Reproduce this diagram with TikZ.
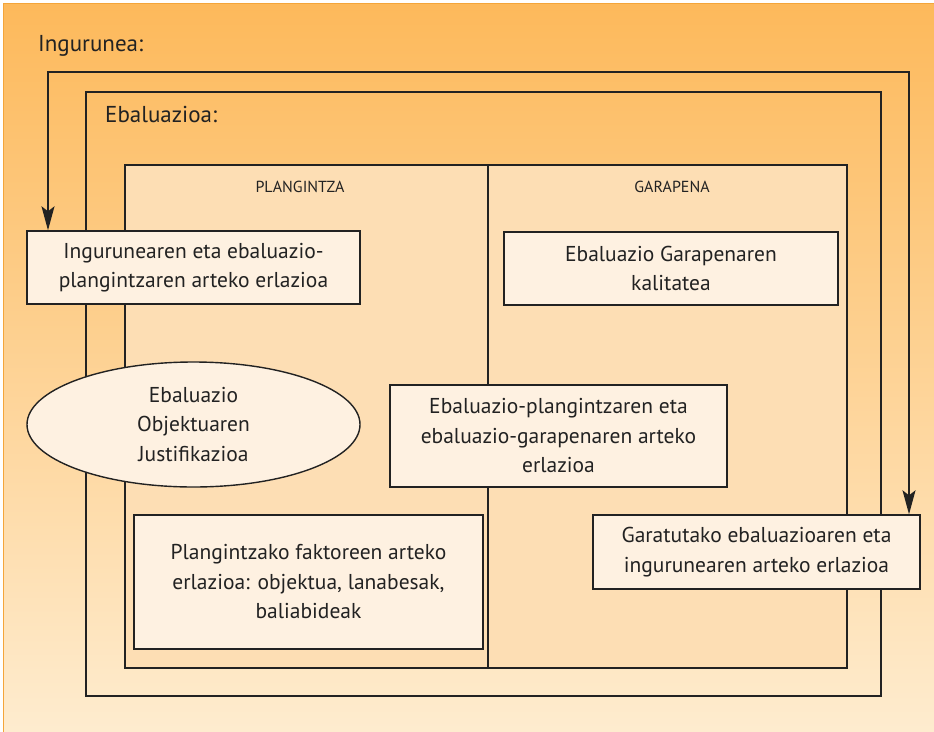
\documentclass[tikz,border=0pt]{standalone}
\usepackage{fontspec}
\setmainfont{PT Sans}
\usetikzlibrary{arrows.meta,shapes.geometric}
\definecolor{ink}{HTML}{222222}
\definecolor{boxfill}{HTML}{FEF1E1}
\definecolor{panel}{HTML}{FDDEB4}
\definecolor{bgtop}{HTML}{FDB95B}
\definecolor{bgbot}{HTML}{FEECCF}
\definecolor{edge}{HTML}{F4A53A}
\tikzset{
  frame/.style={draw=ink, line width=1.4pt},
  textbox/.style={frame, fill=boxfill, align=center, inner sep=0pt, text=ink, font=\fontsize{21.5}{29.5}\selectfont},
  ovalbox/.style={textbox, ellipse},
  lbl/.style={text=ink, inner sep=0pt, font=\fontsize{23}{26}\selectfont},
  smalllbl/.style={text=ink, inner sep=0pt, font=\fontsize{16}{19}\selectfont},
  link/.style={draw=ink, line width=1.4pt, {Stealth[length=24pt,width=13pt,inset=5pt]}-{Stealth[length=24pt,width=13pt,inset=5pt]}}
}
\begin{document}
\begin{tikzpicture}[x=1pt,y=-1pt]
\useasboundingbox (0,0) rectangle (934,731);
\fill[white] (0,0) rectangle (934,731);
\shade[top color=bgtop, bottom color=bgbot, draw=edge, line width=0.8pt] (3,3) rectangle (936,733);
% Ebaluazioa frame
\draw[frame] (86,92) rectangle (881,696);
% inner panel
\draw[frame, fill=panel] (125,165) rectangle (847,668);
\coordinate (divtop) at (488,165);
\coordinate (divbot) at (488,668);
\draw[frame] (divtop) -- (divbot);
% labels
\node[lbl, anchor=west] (ing) at (38,46) {Ingurunea:};
\node[lbl, anchor=west] (eba) at (105,114) {Ebaluazioa:};
\node[smalllbl] (plan) at (300,187) {PLANGINTZA};
\node[smalllbl] (gara) at (672,187) {GARAPENA};
% boxes
\node[textbox, minimum width=333pt, minimum height=73pt] (b1) at (193.5,267.5) {Ingurunearen eta ebaluazio-\\plangintzaren arteko erlazioa};
\node[textbox, minimum width=334pt, minimum height=73pt] (b2) at (671,268.5) {Ebaluazio Garapenaren\\kalitatea};
\node[ovalbox, minimum width=333pt, minimum height=125pt] (e1) at (193.5,424.5) {Ebaluazio\\Objektuaren\\Justifikazioa};
\node[textbox, minimum width=337pt, minimum height=102pt] (b3) at (558.5,436) {Ebaluazio-plangintzaren eta\\ebaluazio-garapenaren arteko\\erlazioa};
\node[textbox, minimum width=349pt, minimum height=134pt] (b4) at (308.5,582) {Plangintzako faktoreen arteko\\erlazioa: objektua, lanabesak,\\baliabideak};
\node[textbox, minimum width=327pt, minimum height=74pt] (b5) at (756.5,552) {Garatutako ebaluazioaren eta\\ingurunearen arteko erlazioa};
% connector
\coordinate (tl) at (48,72);
\coordinate (tr) at (909,72);
\draw[link] (tl |- b1.north) -- (tl) -- (tr) -- (tr |- b5.north);
\end{tikzpicture}
\end{document}
